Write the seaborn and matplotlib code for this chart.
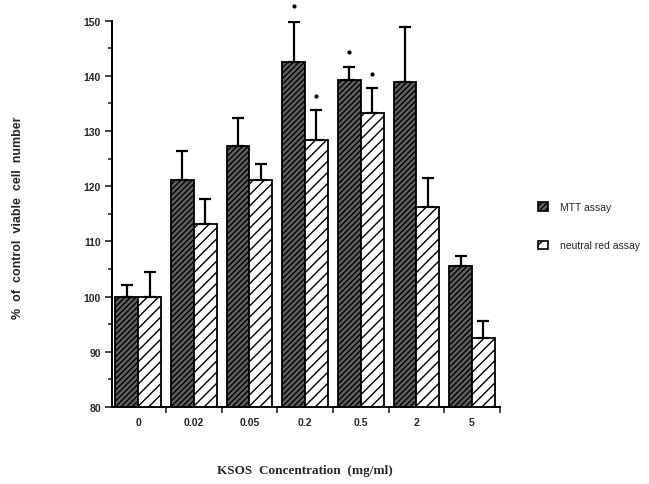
import numpy as np
import pandas as pd
import seaborn as sns
import matplotlib
matplotlib.use("Agg")
import matplotlib.pyplot as plt
from matplotlib.patches import Patch
from matplotlib.ticker import MultipleLocator, FixedLocator

concentrations = ["0", "0.02", "0.05", "0.2", "0.5", "2", "5"]
mtt_values = [100.0, 121.1, 127.3, 142.6, 139.2, 138.9, 105.5]
mtt_errors = [2.1, 5.2, 5.0, 7.2, 2.4, 10.0, 1.9]
nr_values = [100.0, 113.1, 121.1, 128.4, 133.2, 116.2, 92.5]
nr_errors = [4.4, 4.5, 3.0, 5.5, 4.6, 5.3, 3.0]
assays = ["MTT assay", "neutral red assay"]
# significance markers: (category index, series index, y position)
sig_cat = [3, 3, 4, 4]
sig_series = [0, 1, 0, 1]
sig_y = [152.6, 136.3, 144.4, 140.4]

df = pd.DataFrame({
    "conc": concentrations * 2,
    "value": mtt_values + nr_values,
    "err": mtt_errors + nr_errors,
    "assay": [assays[0]] * len(concentrations) + [assays[1]] * len(concentrations),
})

sns.set_style("white")
plt.rcParams["hatch.linewidth"] = 1.0
fig = plt.figure(figsize=(6.49, 4.85), dpi=100)
ax = fig.add_axes([0.1726, 0.1588, 0.5975, 0.7965])

sns.barplot(data=df, x="conc", y="value", hue="assay", order=concentrations,
            hue_order=assays, width=0.82, errorbar=None, ax=ax, legend=False,
            palette=["#606060", "white"], edgecolor="black", linewidth=1.3,
            saturation=1)

n = len(concentrations)
bars = [p for p in ax.patches][:2 * n]
centers = {}
for i, p in enumerate(bars):
    s = i // n
    c = i % n
    if s == 0:
        p.set_hatch("//////")
        p.set_facecolor("#606060")
    else:
        p.set_hatch("///")
        p.set_facecolor("white")
    p.set_edgecolor("black")
    centers[(c, s)] = p.get_x() + p.get_width() / 2

for s, (vals, errs) in enumerate([(mtt_values, mtt_errors), (nr_values, nr_errors)]):
    xs = [centers[(c, s)] for c in range(n)]
    ax.errorbar(xs, vals, yerr=[np.zeros(n), errs], fmt="none", ecolor="black",
                elinewidth=1.6, capsize=4, capthick=1.6, zorder=5)

for c, s, y in zip(sig_cat, sig_series, sig_y):
    ax.plot([centers[(c, s)]], [y], marker="o", markersize=2, color="black",
            clip_on=False, zorder=6)

ax.set_ylim(80, 150)
ax.set_xlim(-0.47, 6.5)
ax.yaxis.set_major_locator(MultipleLocator(10))
ax.yaxis.set_minor_locator(MultipleLocator(5))
ax.xaxis.set_minor_locator(FixedLocator(np.arange(-0.5, n, 1.0)))
ax.tick_params(axis="x", which="major", length=0, pad=7)
ax.tick_params(axis="x", which="minor", length=4, width=1.2, direction="out", bottom=True)
ax.tick_params(axis="y", which="major", length=5, width=1.2, direction="out", left=True, pad=3)
ax.tick_params(axis="y", which="minor", length=3, width=1.2, direction="out", left=True)
for lab in ax.get_xticklabels() + ax.get_yticklabels():
    lab.set_fontfamily("Liberation Sans")
    lab.set_fontweight("bold")
    lab.set_fontsize(7.5)

for sp in ["top", "right"]:
    ax.spines[sp].set_visible(False)
for sp in ["left", "bottom"]:
    ax.spines[sp].set_linewidth(1.4)
    ax.spines[sp].set_color("black")

ax.set_xlabel("")
ax.set_ylabel("")
fig.text(305 / 649, 1 - 471 / 485, "KSOS  Concentration  (mg/ml)",
         fontfamily="Liberation Serif", fontweight="bold", fontsize=9.5,
         ha="center", va="center")
fig.text(18 / 649, 1 - 218 / 485, "%  of  control  viable  cell  number",
         fontfamily="Liberation Sans", fontweight="bold", fontsize=9,
         ha="center", va="center", rotation=90)

handles = [Patch(facecolor="#606060", edgecolor="black", hatch="//////", linewidth=1.2),
           Patch(facecolor="white", edgecolor="black", hatch="//", linewidth=1.2)]
leg = fig.legend(handles, assays, loc="upper left", bbox_to_anchor=(0.815, 0.6),
                 frameon=False, handlelength=0.9, handleheight=0.9, labelspacing=2.7,
                 handletextpad=1.2, prop={"family": "Liberation Sans", "size": 7.5})

fig.savefig("out.png", dpi=100, facecolor="white")
